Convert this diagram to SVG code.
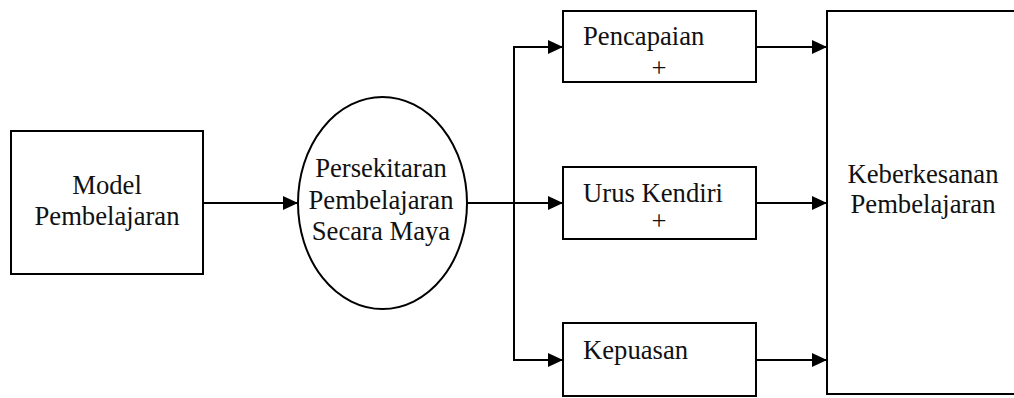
<svg xmlns="http://www.w3.org/2000/svg" width="1014" height="398" viewBox="0 0 1014 398">
<style>
.box{fill:#fff;stroke:#000;stroke-width:2}
.t{font-family:'Liberation Serif','Times New Roman',Times,serif;font-size:26.67px;fill:#111}
.c{text-anchor:middle}
.ln{fill:none;stroke:#000;stroke-width:2}
</style>
<defs>
<marker id="ah" markerUnits="userSpaceOnUse" markerWidth="16" markerHeight="16" refX="15" refY="7" orient="auto">
<path d="M0,0 L15,7 L0,14 z" fill="#000"/>
</marker>
</defs>
<g id="connectors">
<line class="ln" x1="203" y1="203" x2="298" y2="203" marker-end="url(#ah)"/>
<line class="ln" x1="467" y1="203" x2="563" y2="203" marker-end="url(#ah)"/>
<polyline class="ln" points="563,47 514,47 514,360 563,360"/>
<line class="ln" x1="514" y1="47" x2="563" y2="47" marker-end="url(#ah)"/>
<line class="ln" x1="514" y1="360" x2="563" y2="360" marker-end="url(#ah)"/>
<line class="ln" x1="756" y1="47" x2="827" y2="47" marker-end="url(#ah)"/>
<line class="ln" x1="756" y1="203" x2="827" y2="203" marker-end="url(#ah)"/>
<line class="ln" x1="756" y1="360" x2="827" y2="360" marker-end="url(#ah)"/>
</g>
<g id="model">
<rect class="box" x="11" y="131" width="192" height="143"/>
<text class="t c" x="107" y="194">Model</text>
<text class="t c" x="107" y="225">Pembelajaran</text>
</g>
<g id="persekitaran">
<ellipse class="box" cx="382.5" cy="203" rx="84.5" ry="106"/>
<text class="t c" x="381" y="177">Persekitaran</text>
<text class="t c" x="381" y="209">Pembelajaran</text>
<text class="t c" x="381" y="240">Secara Maya</text>
</g>
<g id="pencapaian">
<rect class="box" x="563" y="11" width="193" height="71"/>
<text class="t" x="583" y="45">Pencapaian</text>
<text class="t c" x="659" y="77">+</text>
</g>
<g id="urus">
<rect class="box" x="563" y="167" width="193" height="72"/>
<text class="t" x="583" y="202">Urus Kendiri</text>
<text class="t c" x="659" y="230">+</text>
</g>
<g id="kepuasan">
<rect class="box" x="563" y="323" width="193" height="73"/>
<text class="t" x="583" y="359">Kepuasan</text>
</g>
<g id="keberkesanan">
<rect class="box" x="827" y="11" width="195" height="383"/>
<text class="t c" x="923" y="183">Keberkesanan</text>
<text class="t c" x="923" y="213">Pembelajaran</text>
</g>
</svg>
